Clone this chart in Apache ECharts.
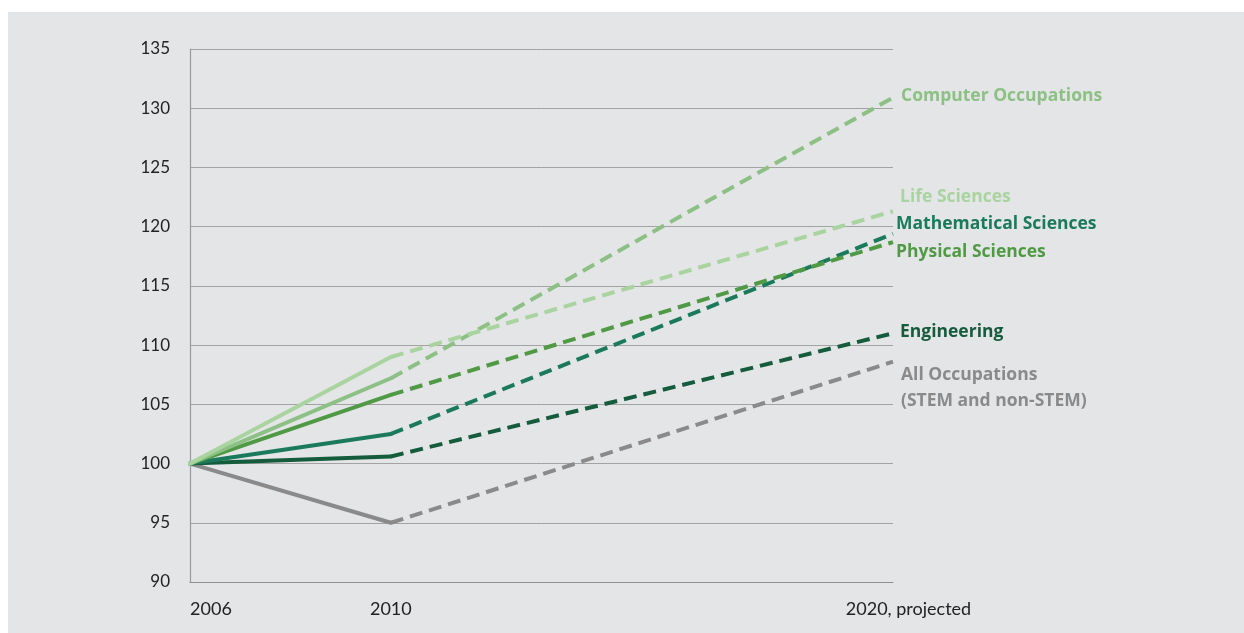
<!DOCTYPE html>
<html><head><meta charset="utf-8">
<script src="https://cdn.jsdelivr.net/npm/echarts@6/dist/echarts.min.js"></script>
<style>
html,body{margin:0;padding:0;background:#fff;}
#wrap{position:absolute;left:8px;top:12px;width:1236px;height:621px;background:#e4e5e7;}
#c{position:absolute;left:-8px;top:-12px;width:1244px;height:633px;}
</style></head>
<body><div id="wrap"><div id="c"></div></div>
<script>
const years = [2006, 2010, 2020];
const xTickLabels = {2006: '2006', 2010: '2010', 2020: '2020, projected'};
const seriesNames = ['Computer Occupations', 'Life Sciences', 'Mathematical Sciences', 'Physical Sciences', 'Engineering', 'All Occupations\n(STEM and non-STEM)'];
const computer = [100, 107.2, 130.9];
const life = [100, 109.0, 121.3];
const math = [100, 102.5, 119.4];
const physical = [100, 105.8, 118.7];
const engineering = [100, 100.6, 111.0];
const allOcc = [100, 95.0, 108.6];
const yTicks = [90, 95, 100, 105, 110, 115, 120, 125, 130, 135];

const values = [computer, life, math, physical, engineering, allOcc];
const colors = ['#8cc084', '#a9d49f', '#1b7a5c', '#519a45', '#155c3d', '#8a8a8a'];
const labelOffsets = [[2, -2], [1, -14], [-3, -10], [-3, 10], [1, -1], [2, 26]];
const order = [5, 4, 2, 3, 0, 1];

const series = [];
order.forEach(i => {
  const v = values[i];
  series.push({
    type: 'line', name: seriesNames[i] + '-solid', symbol: 'none', silent: true,
    data: [[years[0], v[0]], [years[1], v[1]]],
    lineStyle: {color: colors[i], width: 4, cap: 'round', join: 'round'}
  });
  series.push({
    type: 'line', name: seriesNames[i], symbol: 'none', silent: true,
    data: [[years[1], v[1]], [years[2], v[2]]],
    lineStyle: {color: colors[i], width: 4, type: [13, 7], cap: 'butt'},
    endLabel: {
      show: true, formatter: seriesNames[i], color: colors[i],
      fontFamily: 'Open Sans', fontWeight: 'bold', fontSize: 17.5, lineHeight: 26,
      distance: 6, offset: labelOffsets[i], align: 'left'
    }
  });
});

const chart = echarts.init(document.getElementById('c'));
chart.setOption({
  backgroundColor: 'transparent',
  animation: false,
  grid: {left: 190, right: 351, top: 49, bottom: 51, containLabel: false},
  xAxis: {
    type: 'value', min: 2006, max: 2020,
    splitLine: {show: false},
    axisTick: {show: false},
    axisLine: {show: true, lineStyle: {color: '#8f8f8f', width: 1.2}},
    axisLabel: {
      customValues: years,
      margin: 18,
      formatter: v => {
        if (v === 2006) return '{a|' + xTickLabels[v] + '}';
        if (v === 2020) return '{c|' + xTickLabels[v] + '}';
        return '{b|' + xTickLabels[v] + '}';
      },
      rich: {
        a: {fontFamily: 'Lato', fontSize: 18, color: '#222', padding: [0, 0, 0, 42]},
        b: {fontFamily: 'Lato', fontSize: 18, color: '#222'},
        c: {fontFamily: 'Lato', fontSize: 18, color: '#222', padding: [0, 0, 0, 31]}
      }
    }
  },
  yAxis: {
    type: 'value', min: 90, max: 135, interval: 5,
    axisLine: {show: true, lineStyle: {color: '#9a9a9a', width: 1.2}},
    axisTick: {show: false},
    splitLine: {show: true, lineStyle: {color: '#a3a3a3', width: 1}},
    axisLabel: {
      customValues: yTicks,
      margin: 20, fontFamily: 'Lato', fontSize: 17, color: '#222'
    }
  },
  series: series
});
</script>
</body></html>
